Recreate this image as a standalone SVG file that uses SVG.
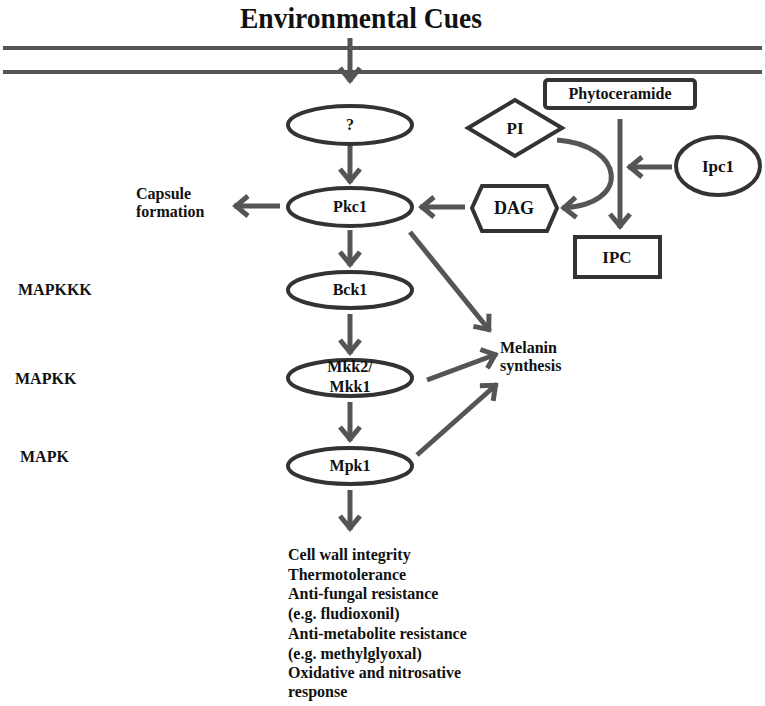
<svg xmlns="http://www.w3.org/2000/svg" width="765" height="706" viewBox="0 0 765 706">
<style>
text{font-family:"Liberation Serif","Times New Roman",serif;font-weight:bold;fill:#111;}
.n{font-size:16px;text-anchor:middle;}
.l{font-size:16px;}
.shape{fill:none;stroke:#333;stroke-width:4;}
.c{fill:none;stroke:#555;stroke-width:5;marker-end:url(#ah);}
.mem{stroke:#555;stroke-width:4;}
</style>
<defs>
<marker id="ah" markerUnits="userSpaceOnUse" viewBox="-16 -13 20 26" markerWidth="20" markerHeight="26" refX="2" refY="0" orient="auto">
<path d="M-12,-10 L0,0 L-12,10" fill="none" stroke="#555" stroke-width="5" stroke-linejoin="miter"/>
</marker>
</defs>
<rect width="765" height="706" fill="#fff"/>
<text x="240" y="28" font-size="29" textLength="242" lengthAdjust="spacingAndGlyphs">Environmental Cues</text>
<g id="membrane">
<line class="mem" x1="3" y1="48" x2="762" y2="48"/>
<line class="mem" x1="3" y1="72" x2="762" y2="72"/>
</g>
<g id="connectors">
<line class="c" x1="350" y1="38" x2="350" y2="82"/>
<line class="c" x1="350" y1="146" x2="350" y2="183"/>
<line class="c" x1="350" y1="230" x2="350" y2="266"/>
<line class="c" x1="350" y1="314" x2="350" y2="354"/>
<line class="c" x1="350" y1="402" x2="350" y2="441"/>
<line class="c" x1="350" y1="490" x2="350" y2="530"/>
<line class="c" x1="280" y1="206" x2="234" y2="206"/>
<line class="c" x1="465" y1="207" x2="420" y2="207"/>
<line class="c" x1="620" y1="119" x2="620" y2="228"/>
<line class="c" x1="672" y1="167" x2="628" y2="167"/>
<path class="c" d="M557,140 C625,145 632,205 562,208"/>
<line class="c" x1="410" y1="232" x2="490" y2="331"/>
<line class="c" x1="427" y1="380" x2="497" y2="354"/>
<line class="c" x1="417" y1="455" x2="497" y2="384"/>
</g>
<g id="q"><ellipse class="shape" cx="350" cy="125" rx="62" ry="19"/><text class="n" x="350" y="130">?</text></g>
<g id="pkc1"><ellipse class="shape" cx="350" cy="207" rx="62" ry="19"/><text class="n" x="350" y="212">Pkc1</text></g>
<g id="bck1"><ellipse class="shape" cx="350" cy="290" rx="62" ry="18"/><text class="n" x="350" y="295">Bck1</text></g>
<g id="mkk"><ellipse class="shape" cx="350" cy="378" rx="62" ry="18"/><text class="n" x="350" y="372">Mkk2/</text><text class="n" x="350" y="392">Mkk1</text></g>
<g id="mpk1"><ellipse class="shape" cx="350" cy="466" rx="62" ry="18"/><text class="n" x="350" y="471">Mpk1</text></g>
<g id="phyto"><rect class="shape" x="545" y="80" width="150" height="28" rx="3"/><text class="n" x="620" y="99">Phytoceramide</text></g>
<g id="pi"><polygon class="shape" points="468,128 515,100 562,128 515,156"/><text class="n" x="515" y="134" style="font-size:17px">PI</text></g>
<g id="dag"><polygon class="shape" points="472,208 482,186 547,186 557,208 547,231 482,231"/><text class="n" x="514" y="214" style="font-size:18px">DAG</text></g>
<g id="ipc"><rect class="shape" x="575" y="237" width="85" height="40"/><text class="n" x="617" y="263" style="font-size:17px">IPC</text></g>
<g id="ipc1"><ellipse class="shape" cx="718" cy="166" rx="42" ry="29"/><text class="n" x="718" y="172" style="font-size:17px">Ipc1</text></g>
<g id="capsule"><text class="l" x="136" y="199">Capsule</text><text class="l" x="136" y="217">formation</text></g>
<g id="levels">
<text class="l" x="18" y="295">MAPKKK</text>
<text class="l" x="15" y="384">MAPKK</text>
<text class="l" x="20" y="462">MAPK</text>
</g>
<g id="melanin"><text class="l" x="500" y="353">Melanin</text><text class="l" x="500" y="371">synthesis</text></g>
<g id="outputs">
<text class="l" x="288" y="560">Cell wall integrity</text>
<text class="l" x="288" y="580">Thermotolerance</text>
<text class="l" x="288" y="599">Anti-fungal resistance</text>
<text class="l" x="288" y="619">(e.g. fludioxonil)</text>
<text class="l" x="288" y="639">Anti-metabolite resistance</text>
<text class="l" x="288" y="659">(e.g. methylglyoxal)</text>
<text class="l" x="288" y="678">Oxidative and nitrosative</text>
<text class="l" x="288" y="697">response</text>
</g>
</svg>
